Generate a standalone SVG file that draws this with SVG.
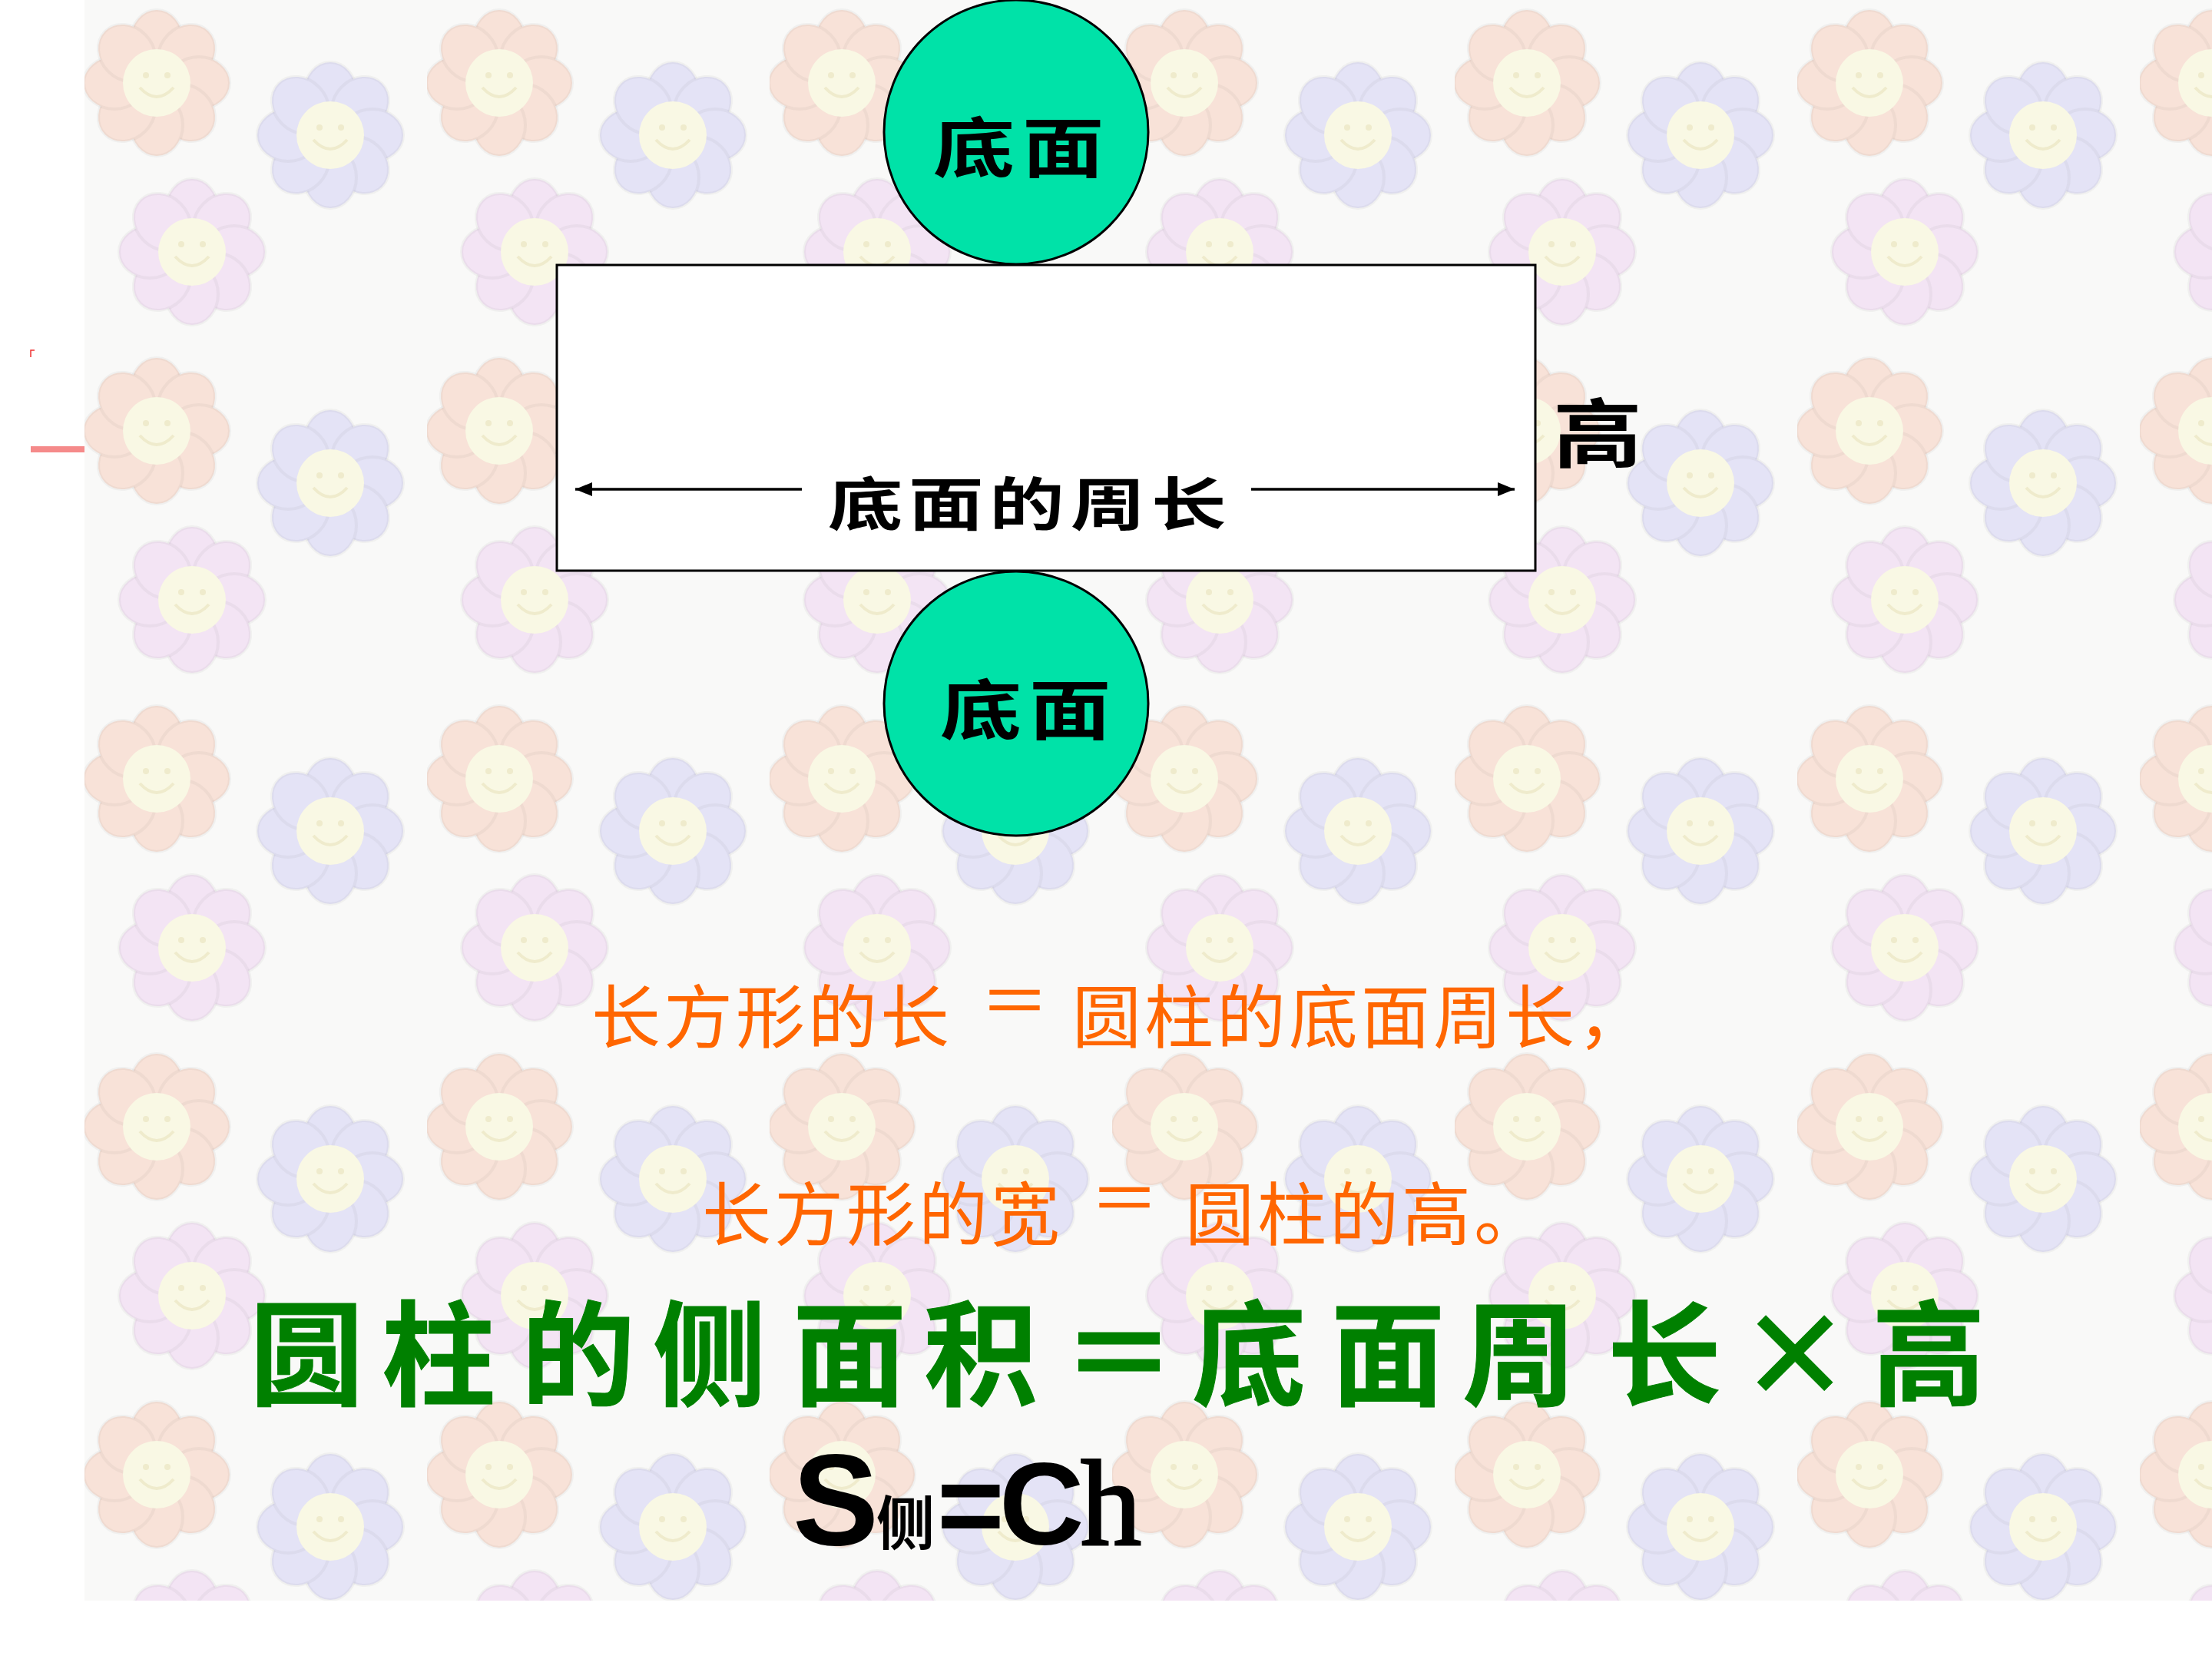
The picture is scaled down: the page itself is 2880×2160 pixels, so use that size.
<svg xmlns="http://www.w3.org/2000/svg" xmlns:xlink="http://www.w3.org/1999/xlink" width="2880" height="2160" viewBox="0 0 2880 2160">
<style>
.cjk{font-family:"Noto Sans CJK SC","Noto Sans CJK JP",sans-serif}
.lbl{fill:#000;font-weight:bold}
.orange{fill:#ff6600;font-size:90px;letter-spacing:4px}
.green{fill:#008000;stroke:#008000;stroke-width:1;font-size:148px;font-weight:bold}
.disc{fill:#00e2a8;stroke:#000;stroke-width:3}
.conn{stroke:#000;stroke-width:3.5;fill:none}
</style>
<defs>
<marker id="ah" viewBox="0 0 22 18" refX="22" refY="9" markerWidth="22" markerHeight="18" markerUnits="userSpaceOnUse" orient="auto">
<path d="M0,0 L22,9 L0,18 z" fill="#000"/>
</marker>
<g id="flw">
<g fill="currentColor" stroke="#000" stroke-opacity="0.035" stroke-width="4">
<ellipse cx="0" cy="-55" rx="34" ry="40"/>
<ellipse cx="0" cy="-55" rx="34" ry="40" transform="rotate(45)"/>
<ellipse cx="0" cy="-55" rx="34" ry="40" transform="rotate(90)"/>
<ellipse cx="0" cy="-55" rx="34" ry="40" transform="rotate(135)"/>
<ellipse cx="0" cy="-55" rx="34" ry="40" transform="rotate(180)"/>
<ellipse cx="0" cy="-55" rx="34" ry="40" transform="rotate(225)"/>
<ellipse cx="0" cy="-55" rx="34" ry="40" transform="rotate(270)"/>
<ellipse cx="0" cy="-55" rx="34" ry="40" transform="rotate(315)"/>
</g>
<circle r="44" fill="#f9f8e4"/>
<circle cx="-14" cy="-10" r="4" fill="#efebcc"/>
<circle cx="14" cy="-10" r="4" fill="#efebcc"/>
<path d="M-22,6 Q0,30 22,6" stroke="#efebcc" stroke-width="4" fill="none"/>
</g>
<pattern id="bgp" x="110" y="0" width="446" height="453" patternUnits="userSpaceOnUse">
<rect width="446" height="453" fill="#f9f9f8"/>
<use xlink:href="#flw" x="94" y="108" color="#f8e2d8"/>
<use xlink:href="#flw" x="320" y="176" color="#e4e3f6"/>
<use xlink:href="#flw" x="140" y="328" color="#f3e4f4"/>
</pattern>
</defs>

<rect width="2880" height="2160" fill="#ffffff"/>
<rect x="110" y="0" width="2770" height="2084" fill="url(#bgp)"/>
<path d="M40,465 V456 H45" stroke="#f03030" stroke-width="1.5" fill="none"/>
<rect x="40" y="581" width="70" height="8" fill="#f58a8a"/>

<g id="circle-top">
<circle class="disc" cx="1323" cy="172" r="172"/>
<text class="cjk lbl" transform="translate(1331,224) scale(1.25,1)" text-anchor="middle" font-size="85" letter-spacing="8">底面</text>
</g>

<g id="circle-bottom">
<circle class="disc" cx="1323" cy="916" r="172"/>
<text class="cjk lbl" transform="translate(1340,956) scale(1.25,1)" text-anchor="middle" font-size="85" letter-spacing="8">底面</text>
</g>

<g id="rect-side">
<rect x="725" y="345" width="1274" height="398" fill="#ffffff" stroke="#000" stroke-width="3"/>
<text class="cjk lbl" transform="translate(1341,684) scale(1.3,1)" text-anchor="middle" font-size="75" letter-spacing="6">底面的周长</text>
</g>

<g id="label-height">
<text class="cjk lbl" transform="translate(2080,600) scale(1.2,1)" text-anchor="middle" font-size="97">高</text>
</g>

<g id="connectors">
<line class="conn" x1="1044" y1="637" x2="749" y2="637" marker-end="url(#ah)"/>
<line class="conn" x1="1629" y1="637" x2="1972" y2="637" marker-end="url(#ah)"/>
</g>

<g id="orange-text">
<text class="cjk orange" x="770" y="1357">长方形的长</text>
<text class="cjk orange" x="1323" y="1336" text-anchor="middle" letter-spacing="0">＝</text>
<text class="cjk orange" x="1396" y="1357">圆柱的底面周长，</text>
<text class="cjk orange" x="914" y="1614">长方形的宽</text>
<text class="cjk orange" x="1466" y="1593" text-anchor="middle" letter-spacing="0">＝</text>
<text class="cjk orange" x="1543" y="1614">圆柱的高。</text>
</g>

<g id="green-formula">
<text class="cjk green" y="1818" text-anchor="middle" x="399 571 753 924 1106 1277 1457 1626 1807 1978 2167 2337 2511">圆柱的侧面积＝底面周长×高</text>
</g>

<g id="symbol-formula">
<text y="2011" fill="#000"><tspan x="1032" font-family="'Liberation Sans',Arial,sans-serif" font-weight="bold" font-size="168">S</tspan><tspan x="1141" font-family="'Noto Sans CJK SC',sans-serif" font-weight="bold" font-size="76">侧</tspan><tspan x="1220" font-family="'Liberation Sans',Arial,sans-serif" font-weight="bold" font-size="150">=</tspan><tspan x="1301" font-family="'Liberation Sans',Arial,sans-serif" font-weight="bold" font-size="153">C</tspan><tspan x="1407" font-family="'Liberation Serif','Times New Roman',serif" font-weight="normal" font-size="158" stroke="#000" stroke-width="3">h</tspan></text>
</g>
</svg>
